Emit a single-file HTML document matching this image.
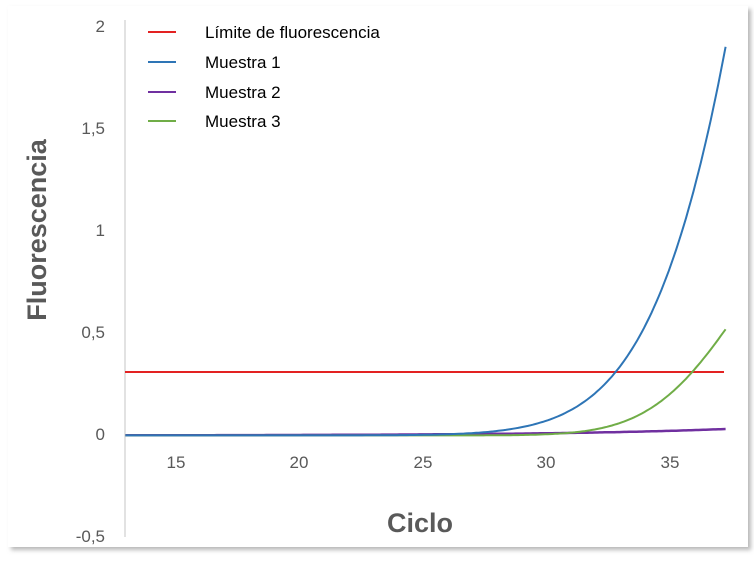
<!DOCTYPE html>
<html><head><meta charset="utf-8">
<style>
body{margin:0;background:#fff;}
svg text{font-family:"Liberation Sans",sans-serif;}
</style></head>
<body>
<svg id="s" width="754" height="558" xmlns="http://www.w3.org/2000/svg">
<defs><filter id="sh" x="-5%" y="-5%" width="110%" height="110%"><feDropShadow dx="3" dy="3" stdDeviation="2" flood-color="#888" flood-opacity="0.6"/></filter></defs>
<rect x="8" y="6" width="740" height="541" fill="#fff" filter="url(#sh)"/>
<line x1="125" y1="20" x2="125" y2="537" stroke="#d9d9d9" stroke-width="1.5"/>
<g font-size="17" fill="#595959" text-anchor="end">
<text x="105" y="32">2</text>
<text x="105" y="134">1,5</text>
<text x="105" y="236">1</text>
<text x="105" y="338">0,5</text>
<text x="105" y="440">0</text>
<text x="105" y="542">-0,5</text>
</g>
<g font-size="17" fill="#595959" text-anchor="middle">
<text x="176" y="468">15</text>
<text x="299" y="468">20</text>
<text x="423" y="468">25</text>
<text x="546" y="468">30</text>
<text x="670" y="468">35</text>
</g>
<text x="420" y="532" font-size="27" font-weight="bold" fill="#595959" text-anchor="middle">Ciclo</text>
<text transform="translate(46,230) rotate(-90)" font-size="27" font-weight="bold" fill="#595959" text-anchor="middle">Fluorescencia</text>
<line x1="125" y1="372" x2="724" y2="372" stroke="#e32222" stroke-width="2"/>
<path id="p2" fill="none" stroke="#7030a0" stroke-width="2.5"/>
<path id="p3" fill="none" stroke="#70ad47" stroke-width="2"/>
<path id="p1" fill="none" stroke="#2e75b6" stroke-width="2"/>
<g font-size="17" fill="#000">
<line x1="148" y1="32" x2="176" y2="32" stroke="#e32222" stroke-width="2"/><text x="205" y="38">Límite de fluorescencia</text>
<line x1="148" y1="62" x2="176" y2="62" stroke="#2e75b6" stroke-width="2"/><text x="205" y="68">Muestra 1</text>
<line x1="148" y1="92" x2="176" y2="92" stroke="#7030a0" stroke-width="2"/><text x="205" y="98">Muestra 2</text>
<line x1="148" y1="121" x2="176" y2="121" stroke="#70ad47" stroke-width="2"/><text x="205" y="127">Muestra 3</text>
</g>
</svg>
<script>
function X(c){return 176+(c-15)*24.7;}
function Y(v){return 433-v*203.5;}
function mk(id,f){var d="";for(var c=12.95;c<=37.31;c+=0.1){d+=(d?"L":"M")+X(c).toFixed(1)+","+Y(f(c)).toFixed(1);}document.getElementById(id).setAttribute("d",d);}
function q(c0,b,a){return function(c){var t=c-c0;return -0.012+0.312*Math.exp(b*t+a*t*t);};}
mk("p1",q(32.8,0.477,-0.0157));
mk("p3",q(35.9,0.436,-0.041));
mk("p2",function(c){return -0.012+0.032*Math.exp(0.15*(c-37.3));});
</script>
</body></html>
